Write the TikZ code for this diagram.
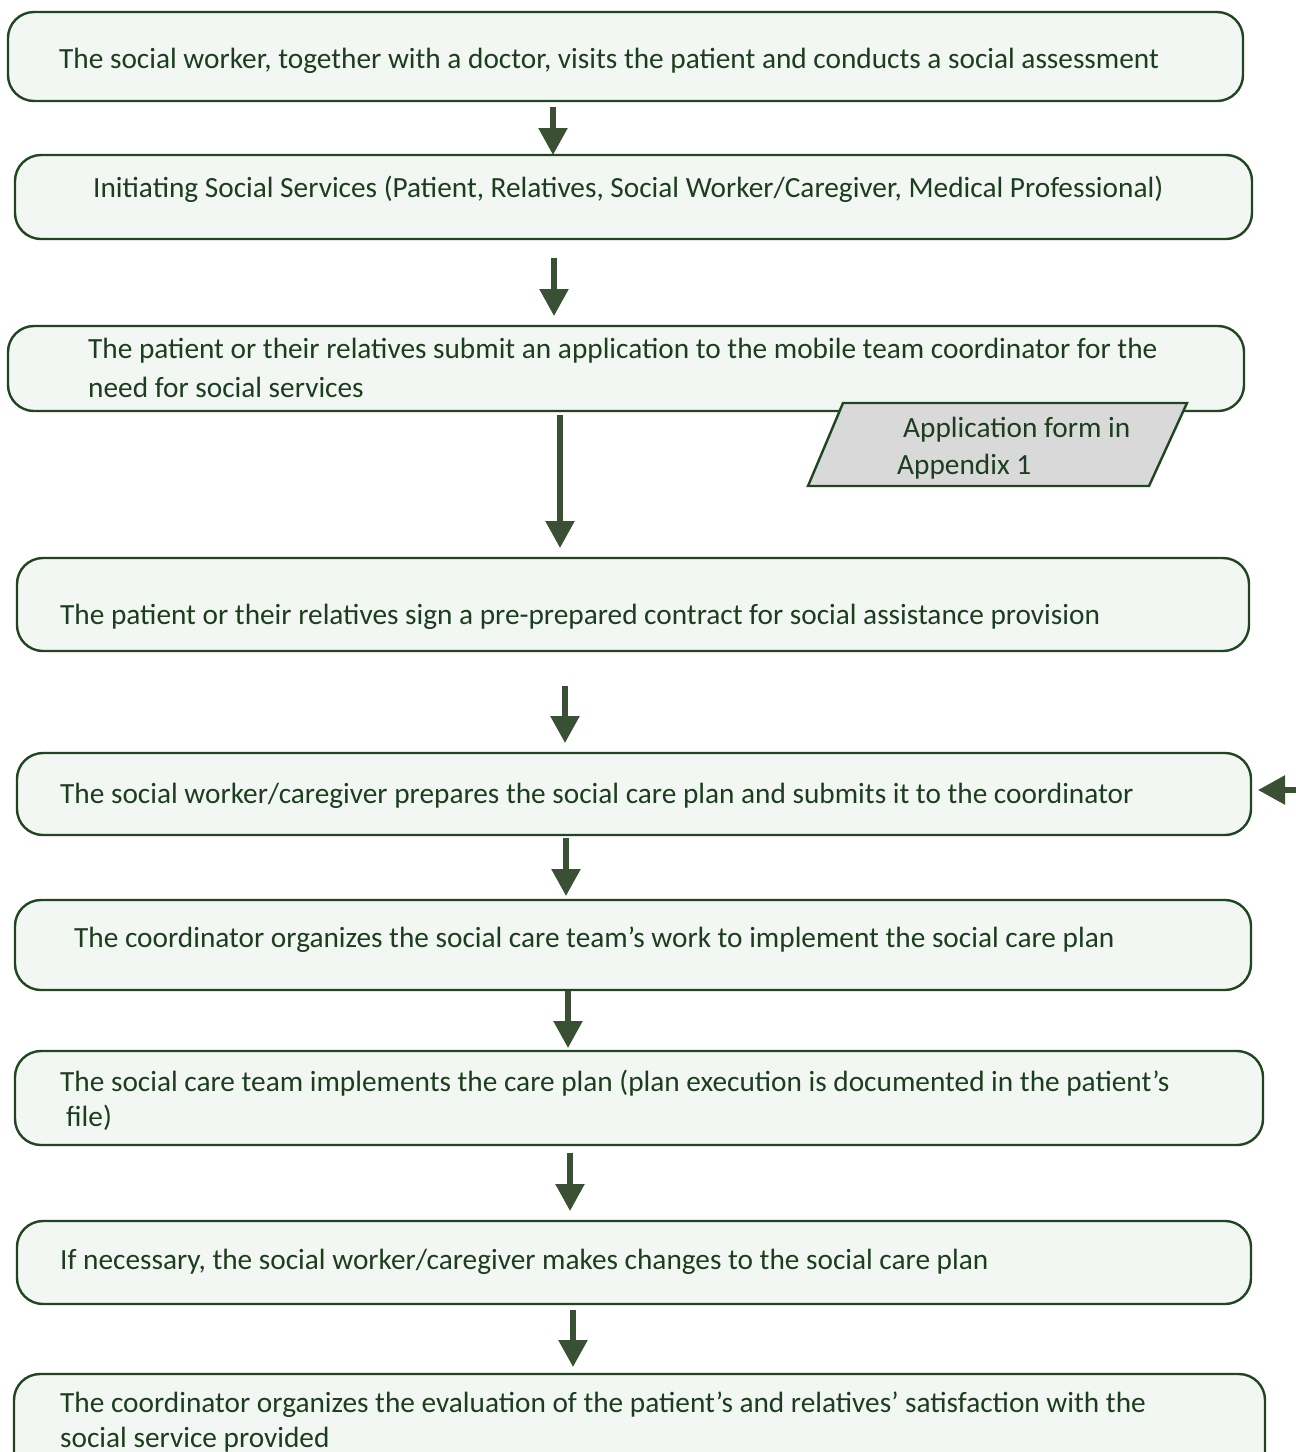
\documentclass[tikz,border=0pt]{standalone}
\usepackage{fontspec}
\setmainfont{Carlito}
\usetikzlibrary{arrows.meta}
\definecolor{boxfill}{HTML}{F3F7F3}
\definecolor{bord}{HTML}{1F4521}
\definecolor{tcol}{HTML}{1C3D1E}
\definecolor{acol}{HTML}{3A5034}
\definecolor{pfill}{HTML}{D9D9D9}
\begin{document}
\begin{tikzpicture}[x=1pt,y=-1pt,
  box/.style={draw=bord, fill=boxfill, line width=2.4pt, rounded corners=26pt, inner sep=0pt},
  txt/.style={anchor=base west, inner sep=0pt, text=tcol, font=\fontsize{29.3}{35}\selectfont},
  arr/.style={draw=acol, line width=5.5pt, -{Triangle[width=28pt,length=27pt]}, acol}]
\useasboundingbox (0,0) rectangle (1296,1452);
\fill[white] (0,0) rectangle (1296,1452);

% boxes
\node[box, minimum width=1235pt, minimum height=89pt] (b1) at (625.5,56.5) {};
\node[box, minimum width=1237pt, minimum height=84pt] (b2) at (633.5,197) {};
\node[box, minimum width=1236pt, minimum height=85pt] (b3) at (626,368.5) {};
\node[box, minimum width=1232pt, minimum height=93pt] (b4) at (633,604.5) {};
\node[box, minimum width=1234pt, minimum height=82pt] (b5) at (634,794) {};
\node[box, minimum width=1236pt, minimum height=90pt] (b6) at (633,945) {};
\node[box, minimum width=1248pt, minimum height=94pt] (b7) at (639,1098) {};
\node[box, minimum width=1234pt, minimum height=83pt] (b8) at (634,1262.5) {};
\node[box, minimum width=1251pt, minimum height=120pt] (b9) at (639.5,1434) {};

% parallelogram
\draw[draw=bord, fill=pfill, line width=2.4pt] (843,403) -- (1187,403) -- (1149,486) -- (808,486) -- cycle;

% texts
\node[txt] (t1) at (59,68) {The social worker, together with a doctor, visits the patient and conducts a social assessment};
\node[txt] (t2) at (93,197) {Initiating Social Services (Patient, Relatives, Social Worker/Caregiver, Medical Professional)};
\node[txt] (t3a) at (88,358) {The patient or their relatives submit an application to the mobile team coordinator for the};
\node[txt] (t3b) at (88,397) {need for social services};
\node[txt] (tpa) at (903,437) {Application form in};
\node[txt] (tpb) at (897,474) {Appendix 1};
\node[txt] (t4) at (60,624) {The patient or their relatives sign a pre-prepared contract for social assistance provision};
\node[txt] (t5) at (60,803) {The social worker/caregiver prepares the social care plan and submits it to the coordinator};
\node[txt] (t6) at (74,947) {The coordinator organizes the social care team’s work to implement the social care plan};
\node[txt] (t7a) at (60,1091) {The social care team implements the care plan (plan execution is documented in the patient’s};
\node[txt] (t7b) at (66,1126) {file)};
\node[txt] (t8) at (60,1269) {If necessary, the social worker/caregiver makes changes to the social care plan};
\node[txt] (t9a) at (60,1412) {The coordinator organizes the evaluation of the patient’s and relatives’ satisfaction with the};
\node[txt] (t9b) at (60,1447) {social service provided};

% arrow coordinates
\coordinate (a1s) at (553,107); \coordinate (a1e) at (553,155);
\coordinate (a2s) at (554,258); \coordinate (a2e) at (554,316);
\coordinate (a3s) at (560,415); \coordinate (a3e) at (560,548);
\coordinate (a4s) at (565,686); \coordinate (a4e) at (565,743);
\coordinate (a5s) at (1300,790); \coordinate (a5e) at (1258,790);
\coordinate (a6s) at (566,838); \coordinate (a6e) at (566,896);
\coordinate (a7s) at (568,991); \coordinate (a7e) at (568,1048);
\coordinate (a8s) at (570,1153); \coordinate (a8e) at (570,1211);
\coordinate (a9s) at (573,1310); \coordinate (a9e) at (573,1367);

\draw[arr] (a1s) -- (a1e);
\draw[arr] (a2s) -- (a2e);
\draw[arr] (a3s) -- (a3e);
\draw[arr] (a4s) -- (a4e);
\draw[arr] (a5s) -- (a5e);
\draw[arr] (a6s) -- (a6e);
\draw[arr] (a7s) -- (a7e);
\draw[arr] (a8s) -- (a8e);
\draw[arr] (a9s) -- (a9e);
\end{tikzpicture}
\end{document}
